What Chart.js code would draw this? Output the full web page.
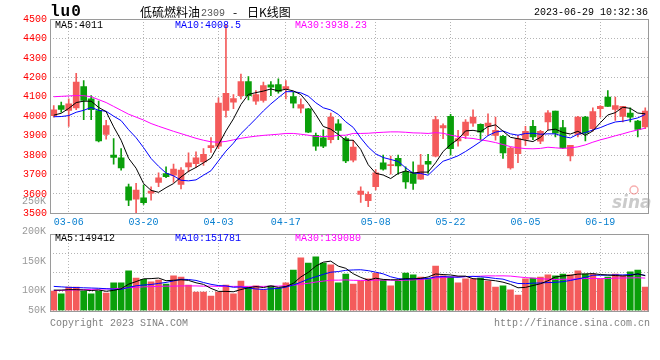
<!DOCTYPE html>
<html>
<head>
<meta charset="utf-8">
<title>低硫燃料油2309 日K线图</title>
<script src="https://cdn.jsdelivr.net/npm/chart.js@4.4.1/dist/chart.umd.min.js"></script>
<style>
  html, body { margin: 0; padding: 0; background: #fff; }
  #wrap { position: relative; width: 660px; height: 360px; overflow: hidden; background: #fff; }
  #kline { position: absolute; left: 0; top: 0; }
  #vol { position: absolute; left: 0; top: 190px; }
</style>
</head>
<body>
<div id="wrap">
  <canvas id="kline" width="660" height="232"></canvas>
  <canvas id="vol" width="660" height="170"></canvas>
</div>
<script>
// trading days shown on the chart
const dates = ['03-02','03-03','03-06','03-07','03-08','03-09','03-10','03-13','03-14','03-15',
  '03-16','03-17','03-20','03-21','03-22','03-23','03-24','03-27','03-28','03-29',
  '03-30','03-31','04-03','04-04','04-06','04-07','04-10','04-11','04-12','04-13',
  '04-14','04-17','04-18','04-19','04-20','04-21','04-24','04-25','04-26','04-27',
  '04-28','05-04','05-05','05-08','05-09','05-10','05-11','05-12','05-15','05-16',
  '05-17','05-18','05-19','05-22','05-23','05-24','05-25','05-26','05-29','05-30',
  '05-31','06-01','06-02','06-05','06-06','06-07','06-08','06-09','06-12','06-13',
  '06-14','06-15','06-16','06-19','06-20','06-21','06-26','06-27','06-28','06-29'];
const tickDates = ['03-06','03-20','04-03','04-17','05-08','05-22','06-05','06-19'];

const opens = [4003,4055,4029,4043,4152,4089,4029,3906,3800,3785,
  3636,3573,3580,3603,3659,3705,3696,3649,3739,3756,
  3764,3838,3845,4029,4072,4106,4178,4077,4081,4161,
  4163,4142,4101,4041,4038,3901,3889,3879,3961,3884,
  3773,3597,3565,3637,3760,3745,3783,3713,3705,3676,
  3768,3794,3939,3999,3872,3901,3964,3958,3947,3901,
  3896,3734,3807,3881,3947,3871,3970,4026,3941,3795,
  3906,3995,3935,4038,4098,4034,3999,4016,3975,3944];
const highs = [4055,4072,4089,4221,4183,4106,4077,3978,3884,3833,
  3650,3654,3645,3636,3708,3739,3753,3735,3811,3816,
  3833,3890,4094,4470,4111,4217,4204,4132,4175,4178,
  4192,4183,4123,4089,4040,3913,3930,4016,3982,3893,
  3876,3636,3611,3725,3799,3794,3799,3739,3765,3804,
  3804,3999,3961,4009,3927,3982,4033,3960,4012,3995,
  3901,3841,3901,3947,3978,3927,4029,4026,3978,3850,
  3999,3999,4043,4055,4132,4098,4050,4043,3978,4043];
const lows = [3995,4021,3947,4033,3982,3982,3867,3881,3753,3722,
  3539,3500,3546,3567,3637,3684,3659,3625,3713,3736,
  3747,3813,3833,3995,4038,4089,4084,4060,4072,4106,
  4118,4089,4043,4016,3915,3824,3838,3862,3879,3760,
  3765,3556,3534,3620,3722,3701,3701,3628,3623,3674,
  3705,3790,3884,3799,3845,3884,3947,3876,3901,3876,
  3782,3727,3760,3850,3879,3859,3930,3893,3833,3770,
  3893,3872,3923,3995,4050,3978,3970,3970,3893,3935];
const closes = [4033,4034,4064,4175,4081,4033,3872,3952,3787,3734,
  3568,3619,3555,3614,3683,3688,3727,3722,3760,3785,
  3804,3848,4067,4118,4091,4178,4106,4111,4157,4149,
  4127,4152,4067,4060,3918,3845,3845,3995,3927,3770,
  3841,3614,3597,3708,3727,3750,3744,3662,3654,3748,
  3753,3982,3952,3833,3884,3970,3995,3918,3964,3927,
  3811,3836,3884,3922,3893,3922,4017,3913,3836,3850,
  3995,3913,4024,4050,4050,4055,4050,3995,3932,4026];

const ma5 = [4005,4015,4040,4070,4077,4077,4045,4023,3945,3876,
  3783,3732,3653,3618,3608,3632,3653,3687,3716,3736,
  3760,3784,3853,3924,3986,4060,4112,4121,4129,4140,
  4130,4139,4130,4111,4065,4008,3947,3933,3906,3876,
  3876,3829,3750,3706,3697,3679,3705,3718,3707,3712,
  3712,3760,3818,3854,3881,3924,3927,3920,3946,3955,
  3923,3891,3884,3876,3869,3891,3928,3933,3916,3908,
  3922,3901,3924,3966,4006,4018,4046,4040,4016,4012];
const ma10 = [3997,3998,4003,4020,4030,4045,4030,4025,4000,3977,
  3930,3889,3838,3782,3742,3707,3693,3670,3667,3672,
  3696,3719,3770,3820,3861,3910,3948,3987,4027,4063,
  4095,4126,4126,4120,4103,4069,4043,4032,4009,3971,
  3942,3888,3841,3806,3787,3777,3767,3734,3707,3705,
  3696,3733,3768,3781,3796,3818,3843,3869,3900,3918,
  3924,3909,3902,3911,3912,3907,3909,3909,3896,3888,
  3907,3915,3929,3941,3957,3970,3974,3982,3991,4009];
const ma30 = [4100,4102,4104,4106,4105,4100,4085,4070,4050,4030,
  4010,3995,3980,3962,3948,3935,3922,3910,3898,3886,
  3876,3868,3866,3870,3878,3886,3892,3897,3901,3904,
  3907,3911,3911,3907,3902,3895,3895,3896,3901,3902,
  3911,3911,3912,3915,3917,3919,3919,3917,3914,3913,
  3911,3915,3912,3902,3895,3888,3885,3878,3872,3864,
  3854,3843,3837,3833,3832,3834,3840,3837,3834,3837,
  3842,3852,3866,3878,3888,3899,3909,3920,3929,3938];

const volumes = [84000,72000,101000,101000,84000,72000,84000,75000,119000,119000,
  170000,140000,134000,123000,131000,114000,149000,144000,110000,80000,
  80000,63000,80000,110000,72000,127000,101000,106000,89000,106000,
  97000,119000,174000,226000,204000,230000,204000,196000,119000,157000,
  114000,127000,136000,161000,131000,106000,127000,161000,153000,144000,
  136000,191000,149000,144000,119000,136000,136000,140000,127000,101000,
  106000,89000,67000,136000,140000,144000,153000,149000,157000,153000,
  170000,157000,157000,136000,144000,157000,149000,166000,174000,101000];
const volMa5 = [88000,88000,90000,90000,88400,86000,88400,83200,86800,93800,
  113400,124600,136400,137200,139600,128400,130200,132200,129600,119400,
  112600,95400,82600,82600,81000,90400,98000,103200,99000,105800,
  99800,103400,117000,144400,164000,190600,207600,212000,190600,181200,
  158000,142600,130600,139000,133800,132200,132200,137200,135600,138200,
  144200,157000,154600,152800,147800,147800,136800,135000,131600,128000,
  122000,112600,98000,99800,107600,115200,128000,144400,148600,151200,
  156400,157200,158800,154600,152800,150200,148600,150400,158000,149400];
const volMa10 = [104000,102000,100000,99000,98000,97000,96000,94000,92000,91100,
  99700,106500,109800,112000,116700,120900,127400,134300,133400,129500,
  120500,112800,107400,106100,100200,101500,96700,92900,90800,93400,
  95100,100700,110100,121700,134900,145200,155500,164500,167500,172600,
  174300,175100,171300,164800,157500,145100,137400,133900,137300,136000,
  138200,144600,145900,144200,143000,146000,146900,144800,142200,137900,
  134900,124700,116500,115700,117800,118600,120300,121200,124200,129400,
  135800,142600,151600,151600,152000,153300,152900,154600,156300,151100];
const volMa30 = [86000,87000,88000,89000,90000,91000,92000,93000,94000,96000,
  98000,100000,102000,103000,104000,105000,105000,106000,106000,106000,
  105000,105000,104000,104000,104000,104000,104000,104000,104000,104700,
  105100,106700,109100,113300,117300,122500,126500,130600,130600,131800,
  130000,129500,129600,130900,130900,130600,129900,130400,131900,134000,
  135900,140100,142400,143600,145100,145400,146600,147700,149000,148800,
  149100,148100,144600,141600,139400,136600,134900,133300,134600,134400,
  136300,137300,138000,137200,137600,139300,140000,140200,140900,139500];

const titleParts = ['lu0', '低硫燃料油', '2309', '-', '日K线图'];
const stamp = '2023-06-29 10:32:36';
const priceLegend = ['MA5:4011', 'MA10:4008.5', 'MA30:3938.23'];
const volLegend = ['MA5:149412', 'MA10:151781', 'MA30:139080'];
const volTickLabels = ['250K', '200K', '150K', '100K', '50K'];
const footer = ['Copyright 2023 SINA.COM', 'http://finance.sina.com.cn'];

const MONO = '"Liberation Mono", "DejaVu Sans Mono", monospace';
const CJK = '"Noto Sans CJK SC", "Noto Sans", sans-serif';
const UP = '#f45b5b', DOWN = '#0a9f0a';
const GRID = '#b4b4b4', FRAME = '#9a9a9a';
const maColors = ['#000000', '#0000ff', '#ff00ff'];
const candleColors = closes.map((c, i) => c >= opens[i] ? UP : DOWN);

function dateGrid(ctx) {
  return tickDates.includes(dates[ctx.index]) ? GRID : 'rgba(0,0,0,0)';
}

function maLine(data, color) {
  return { type: 'line', data: data, borderColor: color, borderWidth: 1,
           pointRadius: 0, fill: false, tension: 0, order: 0 };
}

function drawFrame(ctx, a) {
  ctx.strokeStyle = FRAME;
  ctx.lineWidth = 1;
  ctx.strokeRect(Math.round(a.left) + 0.5, Math.round(a.top) + 0.5,
                 Math.round(a.right - a.left) - 1, Math.round(a.bottom - a.top));
}

function drawLegend(ctx, texts, y) {
  ctx.font = '10px ' + MONO;
  ctx.textBaseline = 'middle';
  ctx.textAlign = 'left';
  [55, 175, 295].forEach((x, i) => {
    ctx.fillStyle = maColors[i];
    ctx.fillText(texts[i], x, y);
  });
}

const mainDeco = {
  id: 'mainDeco',
  afterDraw(chart) {
    const { ctx, chartArea } = chart;
    ctx.save();
    drawFrame(ctx, chartArea);
    ctx.textBaseline = 'middle';
    ctx.fillStyle = '#000';
    ctx.font = 'bold 16px ' + MONO;
    if ('letterSpacing' in ctx) ctx.letterSpacing = '1px';
    ctx.fillText(titleParts[0], 50, 12);
    if ('letterSpacing' in ctx) ctx.letterSpacing = '0px';
    ctx.font = '12px ' + CJK;
    ctx.fillText(titleParts[1], 140, 12);
    ctx.fillStyle = '#555';
    ctx.font = '10px ' + MONO;
    ctx.fillText(titleParts[2], 201, 13);
    ctx.fillStyle = '#000';
    ctx.font = '12px ' + CJK;
    ctx.fillText(titleParts[3], 233, 12);
    ctx.fillText(titleParts[4], 247, 12);
    ctx.font = '10px ' + MONO;
    ctx.textAlign = 'right';
    ctx.fillText(stamp, 648, 12);
    drawLegend(ctx, priceLegend, 25);
    // watermark
    ctx.font = 'italic bold 17px "DejaVu Sans", sans-serif';
    ctx.fillStyle = 'rgba(160,160,160,0.55)';
    ctx.textAlign = 'left';
    ctx.fillText('sina', 612, 204);
    ctx.strokeStyle = 'rgba(240,110,110,0.55)';
    ctx.lineWidth = 1.5;
    ctx.beginPath();
    ctx.arc(634, 190, 4, 0, Math.PI * 2);
    ctx.stroke();
    ctx.restore();
  }
};

const volDeco = {
  id: 'volDeco',
  afterDraw(chart) {
    const { ctx, chartArea } = chart;
    ctx.save();
    drawFrame(ctx, chartArea);
    drawLegend(ctx, volLegend, 48);
    ctx.font = '10px ' + MONO;
    ctx.fillStyle = '#999';
    ctx.textAlign = 'right';
    ctx.textBaseline = 'middle';
    [11, 41, 71, 100, 120].forEach((y, i) => ctx.fillText(volTickLabels[i], 46, y));
    ctx.fillStyle = '#808080';
    ctx.textAlign = 'left';
    ctx.fillText(footer[0], 50, 133);
    ctx.textAlign = 'right';
    ctx.fillText(footer[1], 650, 133);
    ctx.restore();
  }
};

const common = {
  responsive: false,
  animation: false,
  devicePixelRatio: 1,
  events: [],
  plugins: { legend: { display: false }, tooltip: { enabled: false } }
};

new Chart(document.getElementById('kline'), {
  type: 'bar',
  data: {
    labels: dates,
    datasets: [
      maLine(ma5, maColors[0]),
      maLine(ma10, maColors[1]),
      maLine(ma30, maColors[2]),
      { data: dates.map((d, i) => [opens[i], closes[i]]), backgroundColor: candleColors,
        barThickness: 6, minBarLength: 1, grouped: false, order: 1 },
      { data: dates.map((d, i) => [lows[i], highs[i]]), backgroundColor: candleColors,
        barThickness: 1, grouped: false, order: 2 }
    ]
  },
  options: Object.assign({}, common, {
    layout: { padding: { top: 19, right: 11, left: 0, bottom: 0 } },
    scales: {
      x: {
        offset: true,
        grid: { offset: false, color: dateGrid, drawTicks: false },
        border: { display: false, dash: [1, 2] },
        ticks: {
          autoSkip: false, maxRotation: 0, padding: 3, color: '#0a80d0',
          font: { family: MONO, size: 10 },
          callback: (v, i) => tickDates.includes(dates[i]) ? dates[i] : ''
        },
        afterFit: s => { s.height = 18.7; }
      },
      y: {
        min: 3500, max: 4500,
        ticks: { stepSize: 100, color: '#ff0000', padding: 3, font: { family: MONO, size: 10 },
                 callback: v => String(v) },
        grid: { color: GRID, drawTicks: false },
        border: { display: false, dash: [1, 2] },
        afterFit: s => { s.width = 50; }
      }
    }
  }),
  plugins: [mainDeco]
});

new Chart(document.getElementById('vol'), {
  type: 'bar',
  data: {
    labels: dates,
    datasets: [
      maLine(volMa5, maColors[0]),
      maLine(volMa10, maColors[1]),
      maLine(volMa30, maColors[2]),
      { data: volumes, backgroundColor: candleColors, barThickness: 6, order: 1 }
    ]
  },
  options: Object.assign({}, common, {
    layout: { padding: { top: 44, right: 11, left: 0, bottom: 0 } },
    scales: {
      x: {
        offset: true,
        grid: { offset: false, color: dateGrid, drawTicks: false },
        border: { display: false, dash: [1, 2] },
        ticks: { display: false, autoSkip: false },
        afterFit: s => { s.height = 49.3; }
      },
      y: {
        min: 0, max: 328000,
        ticks: { display: false, stepSize: 82000 },
        grid: { color: GRID, drawTicks: false },
        border: { display: false, dash: [1, 2] },
        afterFit: s => { s.width = 50; }
      }
    }
  }),
  plugins: [volDeco]
});
</script>
</body>
</html>
